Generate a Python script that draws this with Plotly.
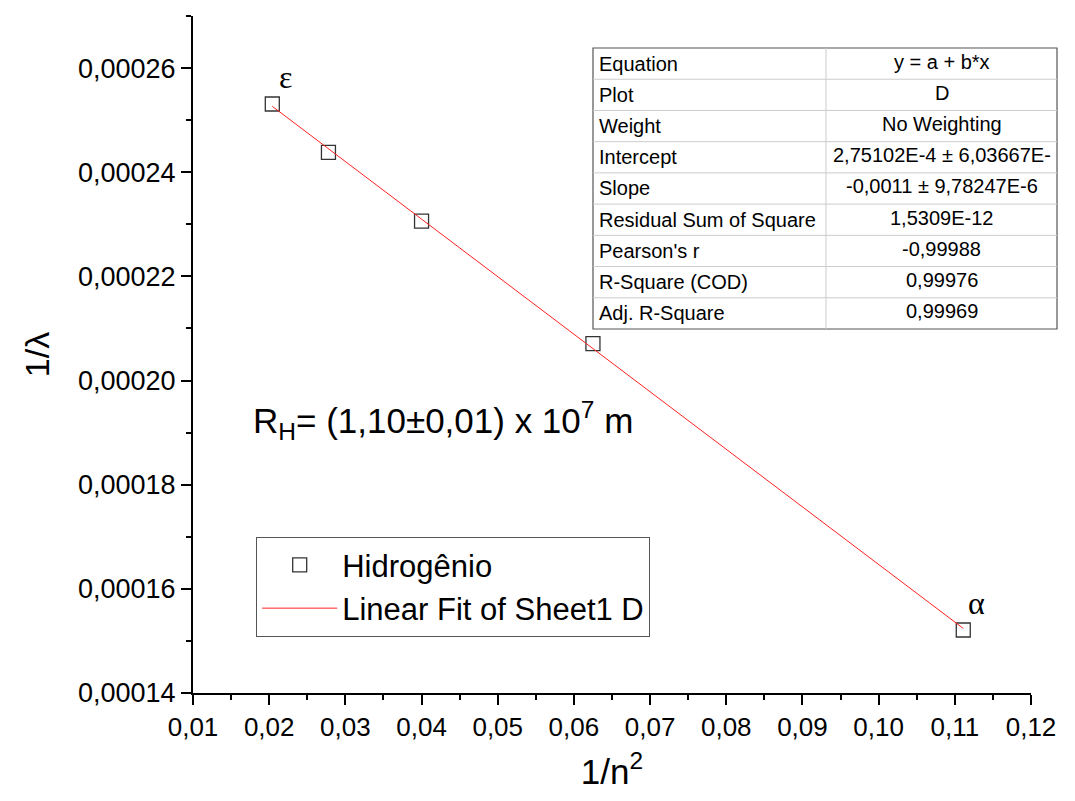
import numpy as np
import plotly.graph_objects as go

# ---- data ----
n_values = [7, 6, 5, 4, 3]
x_inv_n2 = [0.02041, 0.02778, 0.04000, 0.06250, 0.11111]
y_inv_lambda = [0.0002531, 0.0002438, 0.0002306, 0.0002071, 0.0001521]
point_labels = ["ε", "", "", "", "α"]

table_labels = ["Equation", "Plot", "Weight", "Intercept", "Slope",
                "Residual Sum of Square", "Pearson's r", "R-Square (COD)", "Adj. R-Square"]
table_values = ["y = a + b*x", "D", "No Weighting", "2,75102E-4 ± 6,03667E-",
                "-0,0011 ± 9,78247E-6", "1,5309E-12", "-0,99988", "0,99976", "0,99969"]

x_ticks = [0.01, 0.02, 0.03, 0.04, 0.05, 0.06, 0.07, 0.08, 0.09, 0.10, 0.11, 0.12]
y_ticks = [0.00014, 0.00016, 0.00018, 0.00020, 0.00022, 0.00024, 0.00026]

# linear fit
slope, intercept = np.polyfit(x_inv_n2, y_inv_lambda, 1)
fit_x = [min(x_inv_n2), max(x_inv_n2)]
fit_y = [intercept + slope * v for v in fit_x]

FONT = "Liberation Sans, Arial, sans-serif"

# page offset (body margin) and figure size
OFF = 8
FIG_W, FIG_H = 1075 - OFF, 801 - OFF
# plot area in page pixels
L, R, T, B = 193, 1031, 16, 693
W, H = R - L, B - T

def px(x):
    return (x - L) / W

def py(y):
    return (B - y) / H

fig = go.Figure()

fig.add_trace(go.Scatter(
    x=x_inv_n2, y=y_inv_lambda, mode="markers", name="Hidrogênio",
    marker=dict(symbol="square-open", size=14, color="#333333", line=dict(width=1.3)),
))
fig.add_trace(go.Scatter(
    x=fit_x, y=fit_y, mode="lines", name="Linear Fit of Sheet1 D",
    line=dict(color="#ff2020", width=1),
))

annotations = []
for xv, yv, lab in zip(x_inv_n2, y_inv_lambda, point_labels):
    if lab:
        annotations.append(dict(
            x=xv, y=yv, xref="x", yref="y", text=lab, showarrow=False,
            xshift=13, yshift=27, font=dict(family="Liberation Serif, Times New Roman, serif",
                                             size=32, color="black")))

annotations.append(dict(
    x=px(251), y=py(420), xref="paper", yref="paper", xanchor="left", yanchor="middle",
    text="R<sub>H</sub>= (1,10±0,01) x 10<sup>7</sup> m", showarrow=False,
    font=dict(family=FONT, size=35, color="black")))

# results table
tL, tR, tT, tB, tMid = 593, 1057, 48, 329, 826
rows = len(table_labels)
rh = (tB - tT) / rows
shapes = []
shapes.append(dict(type="rect", xref="paper", yref="paper",
                   x0=px(tL), x1=px(tR), y0=py(tB), y1=py(tT),
                   line=dict(color="#555555", width=1.2), fillcolor="white", layer="above"))
for i in range(1, rows):
    yy = py(tT + i * rh)
    shapes.append(dict(type="line", xref="paper", yref="paper", x0=px(tL), x1=px(tR),
                       y0=yy, y1=yy, line=dict(color="#cccccc", width=1), layer="above"))
shapes.append(dict(type="line", xref="paper", yref="paper", x0=px(tMid), x1=px(tMid),
                   y0=py(tB), y1=py(tT), line=dict(color="#cccccc", width=1), layer="above"))
for i, (lab, val) in enumerate(zip(table_labels, table_values)):
    yc = py(tT + (i + 0.5) * rh)
    annotations.append(dict(x=px(tL + 4), y=yc, xref="paper", yref="paper",
                            xanchor="left", yanchor="middle", text=lab, showarrow=False,
                            font=dict(family=FONT, size=20, color="black")))
    annotations.append(dict(x=px((tMid + tR) / 2), y=yc + 2 / H, xref="paper", yref="paper",
                            xanchor="center", yanchor="middle", text=val, showarrow=False,
                            font=dict(family=FONT, size=20, color="black")))

fig.update_layout(
    width=FIG_W, height=FIG_H,
    margin=dict(l=L - OFF, r=FIG_W - (R - OFF), t=T - OFF, b=FIG_H - (B - OFF), pad=0),
    paper_bgcolor="white", plot_bgcolor="white",
    separators=",.",
    font=dict(family=FONT, color="black"),
    showlegend=True,
    legend=dict(x=px(256), y=py(537), xanchor="left", yanchor="top",
                bordercolor="#555555", borderwidth=1.2, bgcolor="white",
                font=dict(family=FONT, size=31, color="black"),
                itemwidth=75, tracegroupgap=0),
    annotations=annotations,
    shapes=shapes,
)

fig.update_xaxes(
    range=[0.01, 0.12], tickvals=x_ticks, tickformat=".2f",
    showline=True, linecolor="black", linewidth=2, mirror=False,
    ticks="outside", ticklen=10, tickwidth=2, tickcolor="black",
    minor=dict(dtick=0.005, tick0=0.0, ticks="outside", ticklen=5, tickwidth=2, tickcolor="black"),
    showgrid=False, zeroline=False,
    tickfont=dict(family=FONT, size=26, color="black"),
    title=dict(text="1/n<sup>2</sup>", font=dict(family=FONT, size=35, color="black"), standoff=18),
)
fig.update_yaxes(
    range=[0.00014, 0.00027], tickvals=y_ticks, tickformat=".5f",
    showline=True, linecolor="black", linewidth=2, mirror=False,
    ticks="outside", ticklen=10, tickwidth=2, tickcolor="black",
    minor=dict(dtick=0.00001, tick0=0.0, ticks="outside", ticklen=5, tickwidth=2, tickcolor="black"),
    showgrid=False, zeroline=False,
    tickfont=dict(family=FONT, size=27, color="black"),
    title=dict(text="1/λ", font=dict(family=FONT, size=34, color="black"), standoff=18),
)

fig.write_html("out.html")
